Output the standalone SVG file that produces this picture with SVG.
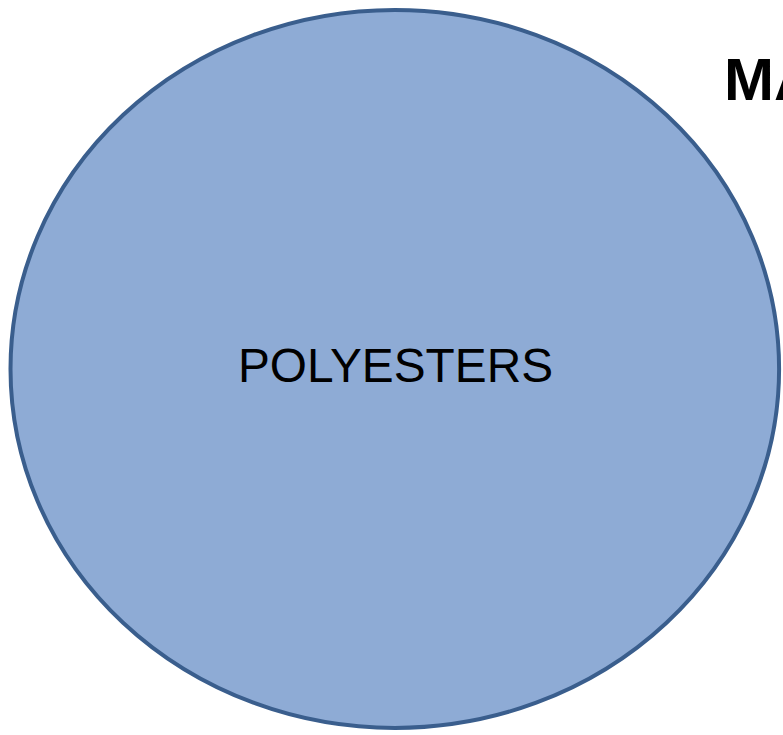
<svg xmlns="http://www.w3.org/2000/svg" width="783" height="735" viewBox="0 0 783 735">
<style>
.t{font-family:"Liberation Sans",Arial,sans-serif;fill:#000}
</style>
<rect width="783" height="735" fill="#fff"/>
<g id="title"><text class="t" x="724" y="100" font-size="60" font-weight="bold">MA</text></g>
<g id="polyesters">
<ellipse cx="394.8" cy="368.9" rx="384.3" ry="359" fill="#8eabd5" stroke="#3a5e8d" stroke-width="4"/>
<text class="t" x="395.5" y="382" font-size="47.8" text-anchor="middle">POLYESTERS</text>
</g>
<g id="connectors"/>
</svg>
